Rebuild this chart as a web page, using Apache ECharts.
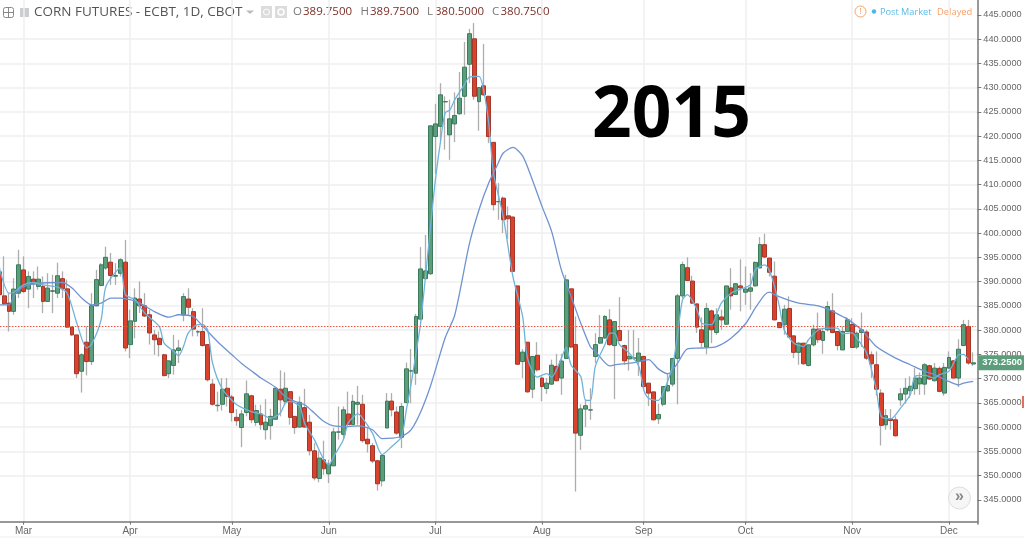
<!DOCTYPE html>
<html><head><meta charset="utf-8">
<style>html,body{margin:0;padding:0;background:#fff}#c{width:1024px;height:539px}</style>
<script src="https://cdn.jsdelivr.net/npm/echarts@6/dist/echarts.min.js"></script>
</head><body><div id="c"></div>
<script>
const opens = [
392,387.05,385.55,383.85,387.6,392.4,388.45,390.5,389,389,
385.9,388,387.6,390.6,388.5,380.6,379,371.5,377.5,373.5,
385,389.2,392.8,394,391.1,391.7,394,377,381.8,386.4,
385,383.15,379,378.3,374.9,371,372.7,375.8,383.15,386.4,
383.8,379.6,379.7,377,368.85,364.4,364.7,368,366.2,362,
359.9,363,366.45,360.95,362.7,359.45,360.3,361.6,367.8,365.3,
367.3,362.2,360,364,361,355.1,349.4,353.25,350.35,352,
358.95,358.5,362.7,360.5,364.7,364.7,357.5,356.15,353.05,348.9,
359.8,365.35,363.1,357.9,365.05,371.55,371.1,382.25,390.6,391.6,
419.9,422,427.05,420.25,422.5,424.6,428.2,434.8,440.05,427.1,
430.35,428.2,418.7,406.45,407.2,403.55,403.3,389.1,373.5,377.5,
367.8,374.8,370.1,367.95,368.85,372.5,370.1,374.15,388.5,377,
358.3,363.7,363.5,374.55,377.3,378.35,382.1,376.8,379.9,376.8,
374.05,374.2,373.5,374.55,369.05,367.25,361.7,364.7,367.45,368.85,
374.15,387.05,392.85,390.1,385.4,380.05,376.5,383.95,379.5,382.7,
381.2,388.7,387.35,389.1,387.8,388,389.1,392.8,397.6,394.85,
391.1,381.55,381.1,384.45,378.8,375.4,377.3,372.7,376.95,380.2,
377.85,380.05,383.95,379.7,375.9,379.7,381.15,376.5,379.5,379.6,
374.9,372.85,367,360.45,361.7,361.5,365.6,366.8,367.5,367.9,
368.9,368.85,372.65,369.55,372.1,367,372.15,373.65,370.1,376.8,
380.75,373
];
const closes = [
387.3,385.4,383.85,388.45,393.45,387.95,391.05,389.5,390.5,385.9,
388.65,388.1,391.2,388.5,380.6,379,371,374.9,373.5,385,
390.4,393.45,395,391.25,391.25,394.5,376.3,381.9,386.6,385,
382.9,379.4,378,377,370.6,373.65,375.9,376.3,386.9,384.7,
380.2,379.65,376.8,369.75,364.7,364.5,367.8,366.3,363,361.3,
362.7,366.85,361.5,363.4,360.5,361,362.2,368,365.6,368,
362,359.9,365.1,360,355.1,349.5,353.6,351.4,352.35,359,
359,363.55,360.5,365.3,365.1,357.2,356.55,353,348.3,354.15,
365.35,363.55,358.75,364.25,372,371.6,382.8,392.6,392.2,422.1,
422.5,428.5,427.1,423.55,424.25,427.8,434.2,441.1,428.2,430,
428.5,419.9,405.85,406.5,402.75,402.95,392.1,372.95,375.45,367.25,
374.55,371.8,368.35,369.05,372.75,369.55,373.6,390.35,376.5,358.75,
363.75,364.4,363.55,377,378.45,382.8,377,381.75,377.85,373.65,
374.6,374.25,375.25,368.35,367,361.5,362.6,368.35,368.55,374.15,
387.05,393.5,390.2,385.55,380.6,377.45,384.45,380.05,383.15,382.1,
389.1,387.05,389.55,388.7,388.45,388.7,393.95,397.65,395.05,391.9,
382.1,380.5,384.3,378.55,375.4,377.3,373.05,376.95,380.2,378,
379.7,384.85,379.5,376.8,379.7,382.1,376.4,379.35,380.05,374.2,
373.05,367.8,360.35,362.35,361.35,358.2,366.85,368,368.4,370.1,
370.1,372.85,369.9,372.15,367.35,372.3,374.35,370.1,376.05,381.1,
373.2,373.25
];
const lows = [
386,385.2,379.7,383.15,386.6,387.6,384.5,386.6,388.3,383.5,
385.9,383.5,386.6,386.6,380.4,378.8,370.1,367.1,370.65,372.8,
384.9,389,392.4,389.3,389.3,391.05,375.6,374.2,378.3,383.5,
382.7,377,374.9,374.55,370.45,370.1,370.8,373.2,381.8,383.15,
378.7,378.7,376.6,369.4,364.4,363.2,363.4,364.25,361.15,360.25,
355.85,362.2,360.8,360.25,359.45,357.4,357.4,361.6,362.2,364.6,
360.5,358.6,359.8,360,354.15,349,348.6,350.15,348.45,352,
357.4,357.4,360.5,360.5,360.5,356.8,354.75,352.55,346.9,347.75,
359.8,362.2,358.4,355.65,364.9,364.9,368.7,382,390.4,391.4,
412.2,418.9,417.2,415.1,418.75,424.4,424.4,430.9,427.5,421.1,
428.3,418.55,404.65,402.75,400,398.75,392.1,372.85,370.1,367.1,
365.95,371.45,365.3,366.85,368.7,369.4,366.65,374,376.3,346.7,
355.3,360,361.5,373.2,377.15,378.2,376.75,365.75,377.65,372.85,
371.65,373.85,370.55,368,364.35,361.35,360.65,364.25,367.3,368.35,
364.7,386.6,390.15,385.4,379.4,376.5,375,377.3,379,380.05,
381.1,384.2,387.35,383.85,385.2,384.2,389,392.8,394.85,391.05,
382,380.4,379,378.55,374.2,372.85,372.85,372.5,376.6,377.3,
375.1,379.7,379.35,375.8,375.9,379.7,376.3,376.05,376.5,373.85,
370.1,366.5,356.2,359.45,359.45,358.05,364.4,364.8,366,366.65,
366.65,366.65,369.75,369.4,367.15,366.45,371.95,370.1,368.25,376.8,
372.85,372.6
];
const highs = [
393,395.2,387.6,390.7,396.55,395.2,392.1,392.1,393.1,391.05,
391.7,391.4,393.9,392.1,390.4,380.75,379,375.2,380.75,387.6,
392.4,393.8,397.2,395.9,393.8,394.8,398.6,384.2,388.6,390,
387.6,384.2,380,379.7,375.1,373.65,379,378,387.6,388.6,
384.5,380,384.5,377,369.9,367.3,370.1,370.1,366.65,363.7,
363.55,369.6,366.65,364.6,364.6,365.75,363.75,368.15,371.7,371.3,
367.3,362.2,366.3,367.9,362.5,356.7,355,357.2,353.25,359.8,
364.25,364.25,367.3,366.65,368.5,366.65,359.8,356.7,353.25,354.15,
367,367,364.25,364.95,373.3,376.1,383.3,397.1,399.6,422.2,
426.65,430.9,428.2,427.5,429,433.2,439.4,442.1,443.3,430,
439,428.2,418.7,410.3,407.55,405.5,403.4,389.1,376.05,377.5,
374.55,377.5,370.4,370.1,373.9,375.1,375.1,391.4,388.5,382.8,
364.7,365.75,368,379.35,383.1,383.1,384.3,381.75,386.8,377,
380,380,378.35,374.7,369.05,367.25,364.8,368.35,371,374.15,
387.45,394.1,395,391.2,385.4,382.65,385.55,384.2,384.5,384.2,
389.1,392.75,389.7,394.6,393.1,391.75,394.15,399.15,399.85,394.85,
394.15,381.55,385.2,386.95,378.8,377.45,377.3,376.95,381.1,383.6,
380.4,385.9,387.6,379.7,380.75,382.65,382.45,379.7,383.6,380.05,
375.6,375.6,367.8,363.7,363.7,362.2,368,370.1,370.45,372.15,
371.25,373.2,372.85,373.2,372.5,373.2,375.6,373.85,378.1,382.1,
382.1,375.4
];
const fastIdx = [0,2,3,5,7,9,12,14,16,18,19,21,22,25,26,28,30,33,34,36,37,38,39,41,42,43,44,46,49,52,54,56,58,59,60,62,63,65,67,68,69,71,72,74,75,77,79,81,83,84,85,86,87,89,90,91,92,93,94,96,97,99,100,101,102,104,106,108,109,111,113,114,116,117,118,120,121,122,123,125,126,127,128,130,132,133,134,136,137,139,140,141,142,144,145,147,148,149,151,153,155,156,158,159,160,161,162,164,166,167,169,171,173,174,176,177,179,181,182,184,186,188,189,191,193,194,196,198,199,200,201];
const fastVal = [392.8,387.6,387.8,389.3,389.8,389.3,388.85,387.6,381.4,376.3,377,382.1,389,392.8,387.3,386.25,383.5,380.75,377.3,375.6,374.7,376.6,379.4,381.1,381.1,380,373.2,367.9,364.6,363.2,362.7,361.8,362.9,364.9,365.3,364.25,360.8,357.4,353.25,352.2,353.9,357.4,360.8,362.7,361.8,358.75,354.3,356,358,363.55,369,375.25,381.8,401.4,411,418.5,424.75,425.4,427.5,430.6,432.15,432.3,429.2,422.7,412.35,403.4,391,382.8,374.2,370.3,371,370.3,374.2,376.5,372.8,370.4,365.5,365.5,372.5,377,379.35,379.35,377,375.25,372.5,367.7,365.95,365.5,367,372.8,379.35,386.25,387.3,384.2,381.4,381.1,383.15,385.55,387.6,388.45,389.3,392.4,393.45,392.1,389,384.85,380,377.3,376.6,378,380,380.4,380.4,379.2,379.4,378.3,375.25,367.7,362.2,361.7,363.9,366.65,370.45,370.65,370.1,370.8,371.5,374.9,375,373.9];
const slowIdx = [0,2,3,4,6,9,13,15,17,19,21,23,25,27,29,32,35,37,40,42,45,48,50,52,54,57,59,61,63,65,67,69,72,74,77,79,81,83,85,87,89,92,94,97,99,101,103,104,106,108,110,112,114,116,118,120,122,123,126,127,131,134,136,138,140,142,145,148,151,154,156,158,159,160,163,165,169,171,174,175,178,181,185,188,191,193,196,198,199,201];
const slowVal = [385.2,385.2,386.9,388.3,389.3,389.7,389.8,388.65,386.6,385.2,385.55,386.6,386.6,386.25,385.55,383.8,382.65,383.15,382.8,380.75,377.65,374.9,373.1,371.6,370.1,368.2,366.3,365.3,364.6,362.9,361.15,360.25,360.1,360.25,359.45,357.6,357.7,358.05,359.45,363.2,368.5,378.35,383.1,397.7,404.8,410.3,414.5,416.5,417.65,415.9,411,405.5,400.3,392.4,386.9,381.4,376.5,375.6,372.6,372.8,373.3,373.9,372,371,373.2,376.1,376.3,376.6,378.3,381.3,384.5,387.3,387.8,387.3,386.1,385.55,385,384.3,382.8,382.3,380,376.6,374.2,372.85,371.5,370.8,369.4,368.7,369.05,369.4];
const monthNames = ['Mar','Apr','May','Jun','Jul','Aug','Sep','Oct','Nov','Dec'];
const monthStarts = [5,27,48,68,90,112,133,154,176,196];
const priceTicks = [345,350,355,360,365,370,375,380,385,390,395,400,405,410,415,420,425,430,435,440,445];
const lastClose = 373.25;
const headerClose = 380.75;
const ohlcValues = ['389.7500','389.7500','380.5000','380.7500'];

const categories = opens.map((_, i) => {
  const m = monthStarts.indexOf(i);
  return m >= 0 ? monthNames[m] : '';
});
const isMonth = (i) => monthStarts.indexOf(i) >= 0;
const wickData = opens.map((o, i) => [o, closes[i], lows[i], highs[i]]);
const bodyData = opens.map((o, i) => [o, closes[i], Math.min(o, closes[i]), Math.max(o, closes[i])]);
const pairs = (a, b) => a.map((k, i) => [k, b[i]]);

const GREEN = '#5c9e7b', RED = '#d9432e';
const axisColor = '#777', gridColor = '#efefef', labelColor = '#666';
const font = '"Liberation Sans", Arial, sans-serif';

const chart = echarts.init(document.getElementById('c'), null, {renderer: 'canvas'});

const hdrFont = '"Open Sans", sans-serif';
function headerText(x, s, color) {
  return {type: 'text', x: x, y: 12, style: {text: s, fill: color, font: '11.5px ' + hdrFont, textVerticalAlign: 'middle', textAlign: 'left'}};
}
const letters = ['O', 'H', 'L', 'C'];
const letterX = [293, 360.5, 427, 492];
const valueX = [303, 370, 435, 500.5];
const hdr = [];
letters.forEach((l, i) => {
  hdr.push(headerText(letterX[i], l, '#777'));
  hdr.push(headerText(valueX[i], ohlcValues[i], '#7b2f27'));
});

chart.setOption({
  animation: false,
  backgroundColor: '#fff',
  grid: [
    {left: -3.07, width: 980.4, top: -9.45, height: 533.5, containLabel: false, outerBoundsMode: 'none'},
    {left: -3.07, width: 978.7, top: -9.45, height: 533.5, containLabel: false, outerBoundsMode: 'none'}
  ],
  xAxis: [
    {gridIndex: 0, type: 'category', data: [''], offset: -2.35,
     axisLine: {show: true, onZero: false, lineStyle: {color: axisColor, width: 1.5}},
     axisTick: {show: false}, axisLabel: {show: false}, splitLine: {show: false}},
    {gridIndex: 1, type: 'category', data: categories, offset: -2.35, boundaryGap: true,
     axisLine: {show: false, onZero: false},
     axisTick: {show: true, alignWithLabel: true, length: 3, interval: (i) => isMonth(i), lineStyle: {color: axisColor}},
     axisLabel: {show: true, interval: (i) => isMonth(i), color: labelColor, fontSize: 10, fontFamily: font, margin: 5, hideOverlap: false},
     splitLine: {show: true, alignWithLabel: true, interval: (i) => isMonth(i), lineStyle: {color: gridColor, width: 1.5}}}
  ],
  yAxis: [
    {gridIndex: 0, type: 'value', position: 'right', min: 340, max: 450, interval: 5,
     axisLine: {show: true, onZero: false, lineStyle: {color: axisColor, width: 1.5}},
     axisTick: {show: true, length: 4, customValues: priceTicks, lineStyle: {color: axisColor}},
     axisLabel: {color: labelColor, fontSize: 9.2, fontFamily: font, margin: 6, customValues: priceTicks, formatter: (v) => v.toFixed(4)},
     splitLine: {show: true, showMinLine: false, showMaxLine: false, lineStyle: {color: gridColor, width: 1.5}}},
    {gridIndex: 1, type: 'value', min: 340, max: 450, show: false, splitLine: {show: false}}
  ],
  series: [
    {name: 'wick', type: 'candlestick', xAxisIndex: 1, yAxisIndex: 1, data: wickData, barWidth: 1, z: 2, clip: false,
     itemStyle: {color: '#adadad', color0: '#adadad', borderColor: '#adadad', borderColor0: '#adadad', borderWidth: 1.3}},
    {name: 'body', type: 'candlestick', xAxisIndex: 1, yAxisIndex: 1, data: bodyData, barWidth: 4.4, z: 3, clip: false,
     itemStyle: {color: GREEN, color0: RED, borderColor: '#3c7a5c', borderColor0: '#a5372a', borderWidth: 1, borderColorDoji: '#3c7a5c'},
     markLine: {silent: true, symbol: 'none', animation: false, z: 6,
       data: [
         {yAxis: headerClose, lineStyle: {color: '#e8503f', type: [1.5, 1.5], width: 1}, label: {show: false}},
         {yAxis: lastClose, lineStyle: {color: 'rgba(0,0,0,0)', width: 0}, label: {show: true, position: 'end', distance: 2.5, formatter: () => lastClose.toFixed(4), color: '#fff', backgroundColor: GREEN, fontSize: 9.6, fontFamily: font, fontWeight: 'bold', padding: [3, 4, 2, 4]}}
       ]}},
    {name: 'slow', type: 'line', xAxisIndex: 1, yAxisIndex: 1, data: pairs(slowIdx, slowVal), showSymbol: false, symbol: 'none', smooth: 0.25, z: 5,
     lineStyle: {color: '#6f93d2', width: 1.3}},
    {name: 'fast', type: 'line', xAxisIndex: 1, yAxisIndex: 1, data: pairs(fastIdx, fastVal), showSymbol: false, symbol: 'none', smooth: 0.25, z: 5,
     lineStyle: {color: '#70b3da', width: 1.3}}
  ],
  graphic: [
    {type: 'rect', shape: {x: 3.5, y: 7.5, width: 10, height: 10, r: 2}, style: {fill: '#fff', stroke: '#888', lineWidth: 1}},
    {type: 'line', shape: {x1: 8.5, y1: 8, x2: 8.5, y2: 17}, style: {stroke: '#888', lineWidth: 1}},
    {type: 'line', shape: {x1: 4, y1: 12.5, x2: 13, y2: 12.5}, style: {stroke: '#888', lineWidth: 1}},
    {type: 'rect', shape: {x: 20, y: 8, width: 9, height: 9}, style: {fill: '#c9ced2'}},
    {type: 'text', x: 34, y: 12, style: {text: 'CORN FUTURES - ECBT, 1D, CBOT', fill: '#555', font: '13.5px ' + hdrFont, textVerticalAlign: 'middle'}},
    {type: 'polygon', shape: {points: [[246, 10.5], [254, 10.5], [250, 14]]}, style: {fill: '#bbb'}},
    {type: 'rect', shape: {x: 261, y: 6, width: 11, height: 12}, style: {fill: '#dcdcdc'}},
    {type: 'circle', shape: {cx: 266.5, cy: 12, r: 3}, style: {fill: '#dcdcdc', stroke: '#fff', lineWidth: 1}},
    {type: 'rect', shape: {x: 275, y: 6, width: 12, height: 12}, style: {fill: '#dcdcdc'}},
    {type: 'circle', shape: {cx: 281, cy: 12, r: 3}, style: {fill: '#dcdcdc', stroke: '#fff', lineWidth: 1.5}},
    ...hdr,
    {type: 'circle', shape: {cx: 860.5, cy: 11.5, r: 5.5}, style: {fill: '#fff', stroke: '#f5a26b', lineWidth: 1}},
    {type: 'text', x: 860.5, y: 11.5, style: {text: '!', fill: '#f5a26b', font: '9px ' + font, textAlign: 'center', textVerticalAlign: 'middle'}},
    {type: 'circle', shape: {cx: 874, cy: 11.5, r: 2.2}, style: {fill: '#4db6e8'}},
    {type: 'text', x: 880, y: 12, style: {text: 'Post Market', fill: '#5cbbe8', font: '9.2px ' + hdrFont, textVerticalAlign: 'middle'}},
    {type: 'text', x: 937, y: 12, style: {text: 'Delayed', fill: '#f5a26b', font: '9.4px ' + hdrFont, textVerticalAlign: 'middle'}},
    {type: 'text', x: 592, y: 116, scaleX: 0.965, style: {text: '2015', fill: '#000', font: 'bold 72px "Open Sans", sans-serif', textVerticalAlign: 'middle'}, z: 10},
    {type: 'circle', shape: {cx: 959.5, cy: 498, r: 11}, style: {fill: '#f6f6f6', stroke: '#dedede', lineWidth: 1}, z: 10},
    {type: 'text', x: 959.5, y: 497, style: {text: '\u00bb', fill: '#888', font: 'bold 16px ' + font, textAlign: 'center', textVerticalAlign: 'middle'}, z: 11},
    {type: 'rect', shape: {x: 1022, y: 396, width: 2, height: 12}, style: {fill: '#e0705e'}},
    {type: 'line', shape: {x1: 0, y1: 537, x2: 1024, y2: 537}, style: {stroke: '#eeeeee', lineWidth: 1}}
  ]
});
</script></body></html>
